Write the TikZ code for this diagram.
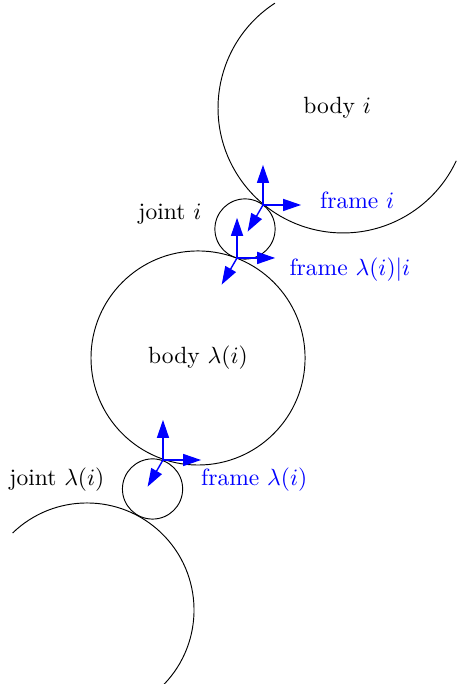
\documentclass[tikz,border=0pt]{standalone}
\usepackage{amsmath,amssymb}
\usepackage{tikz}
\usetikzlibrary{arrows.meta}
\tikzset{
  fr/.style={-{Triangle[length=2.7mm,width=1.8mm]},blue,line width=0.6pt},
  jnt/.style={circle,draw,inner sep=0pt,minimum size=0.9cm},
  bdy/.style={circle,draw,inner sep=0pt,minimum size=3.2cm},
  flbl/.style={blue,inner sep=1pt}
}
\begin{document}
\begin{tikzpicture}
\useasboundingbox (0,0) rectangle (6.816,10.224);
% bodies (partly drawn)
\coordinate (bi) at (5.127,8.610);
\coordinate (bp) at (1.300,1.106);
\draw ([shift={(123:1.868)}]bi) arc (123:335:1.868);
\draw ([shift={(-44:1.6)}]bp) arc (-44:134:1.6);
\node[inner sep=1pt] (bil) at (5.04,8.61) {body $i$};
\node[bdy] (bl) at (2.960,4.873) {body $\lambda(i)$};
% joints
\node[jnt] (ji) at (3.662,6.801) {};
\node[jnt] (jl) at (2.280,2.915) {};
\node[inner sep=1pt] (jil) at (2.54,7.03) {joint $i$};
\node[inner sep=1pt] (jll) at (0.85,3.06) {joint $\lambda(i)$};
% frames
\coordinate (fi) at (3.931,7.160);
\coordinate (fli) at (3.543,6.368);
\coordinate (fl) at (2.436,3.348);
\foreach \o in {fi,fli,fl}{
  \draw[fr] (\o) -- ++(0,0.6);
  \draw[fr] (\o) -- ++(0.57,0);
  \draw[fr] (\o) -- ++(240:0.46);
}
\node[flbl] (fil) at (5.34,7.235) {frame $i$};
\node[flbl] (flil) at (5.23,6.19) {frame $\lambda(i)|i$};
\node[flbl] (fll) at (3.80,3.05) {frame $\lambda(i)$};
\end{tikzpicture}
\end{document}
